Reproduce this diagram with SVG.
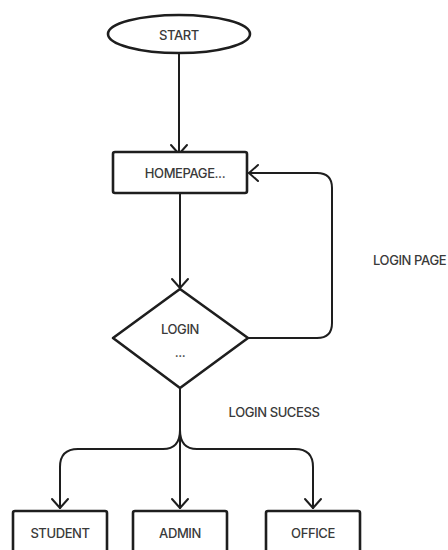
<svg xmlns="http://www.w3.org/2000/svg" width="448" height="550" viewBox="0 0 448 550">
<defs>
<marker id="arr" viewBox="0 0 20 20" refX="18" refY="10" markerWidth="20" markerHeight="20" markerUnits="userSpaceOnUse" orient="auto">
<path d="M9,2 L18,10 L9,18" fill="none" stroke="#1e1e1e" stroke-width="2" stroke-linecap="round" stroke-linejoin="round"/>
</marker>
<style>
.shape{fill:#fff;stroke:#1e1e1e;stroke-width:2.6;stroke-linejoin:round}
.conn{fill:none;stroke:#1e1e1e;stroke-width:2;stroke-linecap:round;stroke-linejoin:round}
.t{font-family:Inter,"Liberation Sans",sans-serif;font-size:13px;font-weight:500;fill:#3a3a3a;text-anchor:middle;dominant-baseline:central;letter-spacing:-0.4px}
</style>
</defs>
<rect width="448" height="550" fill="#fff"/>
<g id="connectors">
<path class="conn" d="M179,53 V154" marker-end="url(#arr)"/>
<path class="conn" d="M180,193 V288" marker-end="url(#arr)"/>
<path class="conn" d="M248,338 H317 Q332,338 332,323 V188 Q332,173 317,173 H249" marker-end="url(#arr)"/>
<path class="conn" d="M180,388 V508" marker-end="url(#arr)"/>
<path class="conn" d="M180,430 Q180,449 163,449 H78 Q60,449 60,467 V508" marker-end="url(#arr)"/>
<path class="conn" d="M180,430 Q180,449 197,449 H295 Q313,449 313,467 V508" marker-end="url(#arr)"/>
</g>
<g id="start">
<ellipse class="shape" cx="179" cy="34" rx="71" ry="19"/>
<text class="t" x="179" y="35">START</text>
</g>
<g id="homepage">
<rect class="shape" x="113" y="152" width="134" height="41" rx="2"/>
<text class="t" x="185" y="173">HOMEPAGE...</text>
</g>
<g id="login">
<path class="shape" d="M180,289 L248,338 L180,388 L113,338 Z"/>
<text class="t" x="180" y="329">LOGIN</text>
<text class="t" x="180" y="352">...</text>
</g>
<g id="label-login-page">
<text class="t" x="373" y="260" style="text-anchor:start">LOGIN PAGE</text>
</g>
<g id="label-login-success">
<text class="t" x="274" y="412">LOGIN SUCESS</text>
</g>
<g id="student">
<rect class="shape" x="13" y="511" width="94" height="50" rx="2"/>
<text class="t" x="60" y="533">STUDENT</text>
</g>
<g id="admin">
<rect class="shape" x="133" y="511" width="94" height="50" rx="2"/>
<text class="t" x="180" y="533">ADMIN</text>
</g>
<g id="office">
<rect class="shape" x="266" y="511" width="94" height="50" rx="2"/>
<text class="t" x="313" y="533">OFFICE</text>
</g>
</svg>
